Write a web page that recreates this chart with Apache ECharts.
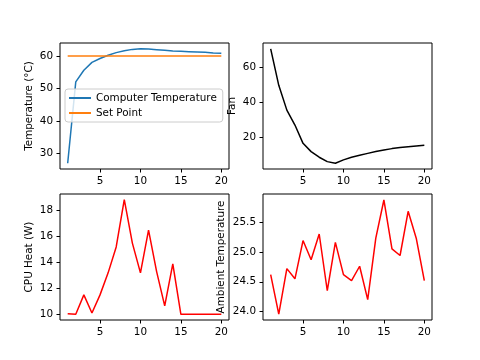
<!DOCTYPE html>
<html><head><meta charset="utf-8">
<script src="https://cdn.jsdelivr.net/npm/echarts@6/dist/echarts.min.js"></script>
<style>html,body{margin:0;padding:0;background:#fff}#c{width:480px;height:360px}</style>
</head><body><div id="c"></div>
<script>
const steps = [1,2,3,4,5,6,7,8,9,10,11,12,13,14,15,16,17,18,19,20];
const computerTemp = [27,52,55.6,58,59.2,60.2,61,61.6,62,62.2,62.1,61.9,61.7,61.5,61.4,61.3,61.2,61.1,60.9,60.8];
const setPoint = [60,60,60,60,60,60,60,60,60,60,60,60,60,60,60,60,60,60,60,60];
const fan = [70.4,49.6,35.5,27,16.6,11.9,8.7,6.2,5.3,7.2,8.7,9.8,10.9,11.9,12.8,13.6,14.2,14.7,15.1,15.5];
const cpuHeat = [10.05,10,11.5,10.1,11.5,13.2,15.2,18.85,15.5,13.2,16.5,13.3,10.65,13.9,10,10,10,10,10,10];
const ambient = [24.62,23.96,24.72,24.55,25.19,24.87,25.3,24.35,25.16,24.62,24.52,24.76,24.2,25.23,25.87,25.05,24.94,25.68,25.23,24.52];
const xTicks = [5,10,15,20];
const tempTicks = [30,40,50,60];
const fanTicks = [20,40,60];
const heatTicks = [10,12,14,16,18];
const ambTicks = [24.0,24.5,25.0,25.5];

const F = 'DejaVu Sans';
const FS = 10.4;
const pairs = (ys) => ys.map((y,i)=>[steps[i], y]);
const grids = [
  {left:60, top:43, width:169, height:126},
  {left:263, top:43, width:169, height:126},
  {left:60, top:194, width:169, height:126},
  {left:263, top:194, width:169, height:126}
].map(g=>Object.assign(g,{show:true,borderColor:'#000',borderWidth:1,backgroundColor:'#fff',containLabel:false}));

function xAx(i){
  return {type:'value', gridIndex:i, min:0.05, max:20.95,
    axisLine:{show:false}, splitLine:{show:false},
    axisTick:{show:true, length:3.5, lineStyle:{color:'#000',width:1}, customValues:xTicks},
    axisLabel:{color:'#000', fontFamily:F, fontSize:FS, margin:7, customValues:xTicks}};
}
function yAx(i,min,max,ticks,name,gap,fmt){
  return {type:'value', gridIndex:i, min:min, max:max,
    name:name, nameLocation:'middle', nameGap:gap,
    nameTextStyle:{color:'#000', fontFamily:F, fontSize:FS},
    axisLine:{show:false}, splitLine:{show:false},
    axisTick:{show:true, length:3.5, lineStyle:{color:'#000',width:1}, customValues:ticks},
    axisLabel:{color:'#000', fontFamily:F, fontSize:FS, margin:7, customValues:ticks,
      formatter: fmt || (v=>String(v))}};
}
const line = (name,xi,data,color)=>({name:name, type:'line', xAxisIndex:xi, yAxisIndex:xi,
  data:pairs(data), symbol:'none', showSymbol:false, lineStyle:{color:color,width:1.5}, itemStyle:{color:color}, animation:false});

const option = {
  animation:false,
  backgroundColor:'#fff',
  grid:grids,
  xAxis:[xAx(0),xAx(1),xAx(2),xAx(3)],
  yAxis:[
    yAx(0,25.24,63.96,tempTicks,'Temperature (°C)',26),
    yAx(1,2.0,73.7,fanTicks,'Fan',26),
    yAx(2,9.56,19.29,heatTicks,'CPU Heat (W)',26),
    yAx(3,23.86,25.97,ambTicks,'Ambient Temperature',37, v=>v.toFixed(1))
  ],
  legend:{show:true, orient:'vertical', left:65, top:89, data:['Computer Temperature','Set Point'],
    itemWidth:22, itemHeight:10, itemGap:5, padding:[4,6,4,3],
    itemStyle:{opacity:0, borderWidth:0},
    borderColor:'#ccc', borderWidth:1, borderRadius:3, backgroundColor:'rgba(255,255,255,0.8)',
    textStyle:{color:'#000', fontFamily:F, fontSize:FS}},
  series:[
    line('Computer Temperature',0,computerTemp,'#1f77b4'),
    line('Set Point',0,setPoint,'#ff7f0e'),
    line('Fan',1,fan,'#000000'),
    line('CPU Heat',2,cpuHeat,'#ff0000'),
    line('Ambient',3,ambient,'#ff0000')
  ]
};
echarts.init(document.getElementById('c'),null,{renderer:'canvas'}).setOption(option);
</script></body></html>
